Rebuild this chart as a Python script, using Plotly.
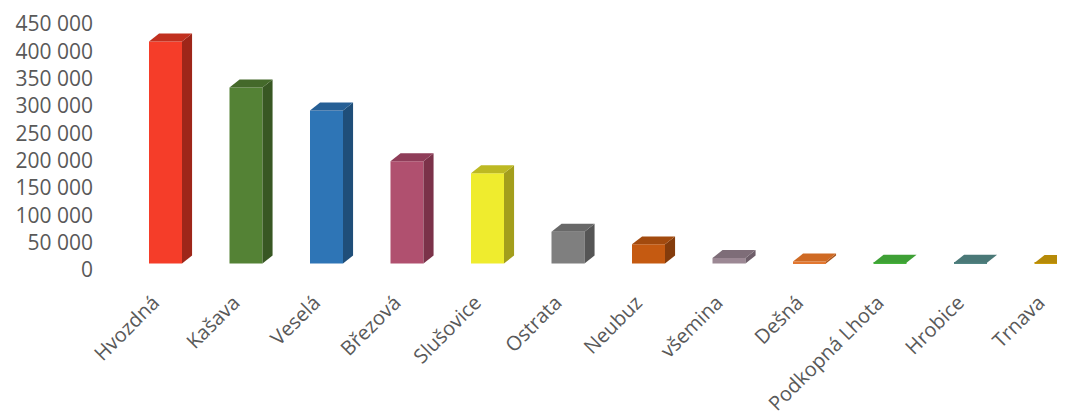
import plotly.graph_objects as go

# values
obce = ['Hvozdná', 'Kašava', 'Veselá', 'Březová', 'Slušovice', 'Ostrata', 'Neubuz',
        'všemina', 'Dešná', 'Podkopná Lhota', 'Hrobice', 'Trnava']
hodnoty = [406000, 322000, 280000, 187000, 165000, 58000, 35000, 10000, 3500, 1500, 1200, 1000]

front_colors = ['#F53D29', '#548235', '#2E75B6', '#B0506F', '#EFEC2E', '#7F7F7F', '#C55A11',
                '#9C8894', '#E27730', '#45B23B', '#528483', '#C99A0A']
side_colors = ['#9E2619', '#385723', '#1F4E79', '#7B3249', '#A39E1C', '#555555', '#843C0C',
               '#6E5E69', '#A9561D', '#2F7C28', '#3A5E5D', '#8E6C06']
top_colors = ['#C1301F', '#44692A', '#265F95', '#8F3D59', '#BDB923', '#686868', '#A24A0E',
              '#7E6D78', '#CF6A24', '#3EA035', '#4A7877', '#B68A08']

x = list(range(len(obce)))
w = 0.41          # bar width (category units)
dx = 0.125        # depth offset, horizontal
dy = 14600        # depth offset, vertical (value units)

fig = go.Figure()

# front faces
fig.add_trace(go.Bar(
    x=x, y=hodnoty, width=w, yaxis='y2',
    marker=dict(color=front_colors, line=dict(width=0)),
    showlegend=False, hoverinfo='skip'
))

# side + top faces to fake the 3D look
for xi, v, sc, tc in zip(x, hodnoty, side_colors, top_colors):
    r = xi + w / 2
    l = xi - w / 2
    fig.add_trace(go.Scatter(
        x=[r, r + dx, r + dx, r, r], y=[0, dy, v + dy, v, 0], yaxis='y2',
        mode='lines', fill='toself', fillcolor=sc, line=dict(width=0),
        showlegend=False, hoverinfo='skip'
    ))
    fig.add_trace(go.Scatter(
        x=[l, r, r + dx, l + dx, l], y=[v, v, v + dy, v + dy, v], yaxis='y2',
        mode='lines', fill='toself', fillcolor=tc, line=dict(width=0),
        showlegend=False, hoverinfo='skip'
    ))

# dummy trace so the labelled value axis gets drawn
fig.add_trace(go.Scatter(x=[x[0]], y=[0], yaxis='y', mode='markers',
                         marker=dict(opacity=0), showlegend=False, hoverinfo='skip'))

# page body has an 8px margin, so figure px = page px - 8
px_per_unit = 246 / 450000
top_px, bottom_px = 2, 269
left_px = 92
cat_px, first_px = 80.5, 157.5

fig.update_layout(
    width=1065, height=412,
    paper_bgcolor='white', plot_bgcolor='white',
    margin=dict(l=left_px, r=0, t=top_px, b=412 - bottom_px, autoexpand=False),
    separators='. ',
    font=dict(family='Open Sans', color='#595959'),
    xaxis=dict(
        range=[(left_px - first_px) / cat_px, (1065 - first_px) / cat_px],
        tickmode='array', tickvals=[xi - 0.15 for xi in x], ticktext=obce, tickangle=-45,
        tickfont=dict(size=20, color='#595959', family='Open Sans'),
        showgrid=False, zeroline=False, showline=False, ticks='',
        ticklabelstandoff=9, automargin=False,
    ),
    yaxis=dict(
        range=[-(bottom_px - 262) / px_per_unit, 450000 + (16 - top_px) / px_per_unit],
        tickmode='array', tickvals=list(range(0, 450001, 50000)),
        tickformat=',d',
        tickfont=dict(size=21, color='#595959', family='Open Sans'),
        showgrid=False, zeroline=False, showline=False, ticks='',
        ticklabelstandoff=6, automargin=False,
    ),
    yaxis2=dict(
        overlaying='y',
        range=[-(bottom_px - 255.5) / px_per_unit, (255.5 - top_px) / px_per_unit],
        visible=False,
    ),
)

fig.write_html('out.html')
